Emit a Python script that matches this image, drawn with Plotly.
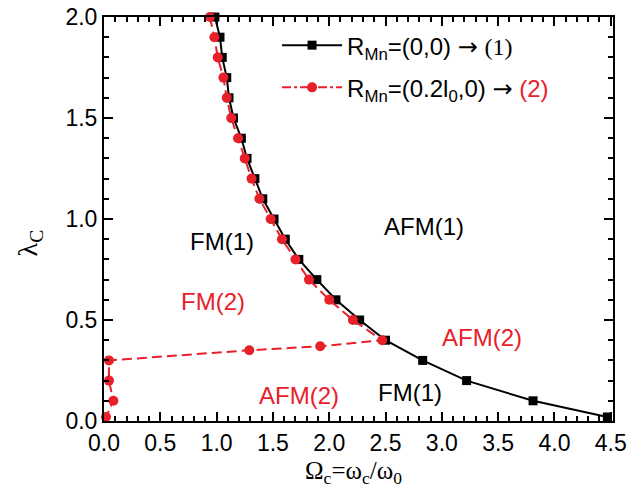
import plotly.graph_objects as go

# Series 1: R_Mn=(0,0)
omega1 = [0.985, 1.03, 1.05, 1.09, 1.11, 1.15, 1.22, 1.27, 1.34, 1.41, 1.51, 1.61, 1.73, 1.89, 2.06, 2.27, 2.50, 2.83, 3.22, 3.81, 4.47]
lam1 = [2.0, 1.9, 1.8, 1.7, 1.6, 1.5, 1.4, 1.3, 1.2, 1.1, 1.0, 0.9, 0.8, 0.7, 0.6, 0.5, 0.4, 0.3, 0.2, 0.1, 0.02]

# Series 2: R_Mn=(0.2 l0, 0)
omega2 = [0.94, 0.98, 1.01, 1.06, 1.09, 1.13, 1.19, 1.25, 1.31, 1.38, 1.48, 1.58, 1.70, 1.82, 2.0, 2.21, 2.47, 1.92, 1.29, 0.044, 0.044, 0.083, 0.018]
lam2 = [2.0, 1.9, 1.8, 1.7, 1.6, 1.5, 1.4, 1.3, 1.2, 1.1, 1.0, 0.9, 0.8, 0.7, 0.6, 0.5, 0.4, 0.37, 0.35, 0.30, 0.2, 0.1, 0.02]

# Region labels
label_text = ["FM(1)", "AFM(1)", "FM(2)", "AFM(2)", "AFM(2)", "FM(1)"]
label_x = [1.05, 2.84, 0.97, 3.36, 1.73, 2.72]
label_y = [0.89, 0.965, 0.59, 0.415, 0.127, 0.14]
label_color = ["black", "black", "red", "red", "red", "black"]

RED = "#e8202a"
FONT = "Liberation Sans, Arial, sans-serif"
SERIF = "Liberation Serif, Times New Roman, serif"
ARROW = "<span style='font-family:DejaVu Sans'>→</span>"

fig = go.Figure()

fig.add_trace(go.Scatter(
    x=omega1, y=lam1, mode="lines+markers",
    line=dict(color="black", width=2),
    marker=dict(symbol="square", size=9, color="black"),
    name="R<sub>Mn</sub>=(0,0) " + ARROW + " <span style='font-family:" + SERIF + "'>(1)</span>",
    legendgroup="g1",
    cliponaxis=False,
))
fig.add_trace(go.Scatter(
    x=omega2, y=lam2, mode="lines+markers",
    line=dict(color=RED, width=2, dash="10px,5px"),
    marker=dict(symbol="circle", size=10, color=RED),
    showlegend=False, legendgroup="g2",
    cliponaxis=False,
))
fig.add_trace(go.Scatter(
    x=[None], y=[None], mode="lines+markers",
    line=dict(color=RED, width=2, dash="dashdot"),
    marker=dict(symbol="circle", size=10, color=RED),
    legendgroup="g2",
    name="R<sub>Mn</sub>=(0.2l<sub>0</sub>,0) " + ARROW + " <span style='color:" + RED + "'>(2)</span>",
))

for t, x, y, c in zip(label_text, label_x, label_y, label_color):
    fig.add_annotation(x=x, y=y, text=t, showarrow=False,
                       font=dict(family=FONT, size=24, color=RED if c == "red" else "black"))

fig.add_annotation(xref="paper", yref="paper", x=0.49, y=-0.128, xanchor="center", yanchor="middle",
                   text="Ω<sub>c</sub>=ω<sub>c</sub>/ω<sub>0</sub>", showarrow=False,
                   font=dict(family=SERIF, size=25, color="black"))
fig.add_annotation(xref="paper", yref="paper", x=-0.147, y=0.44, xanchor="center", yanchor="middle",
                   textangle=-90, text="λ<sub>C</sub>", showarrow=False,
                   font=dict(family=SERIF, size=28, color="black"))

axis_common = dict(
    showline=True, linecolor="black", linewidth=2, mirror="allticks",
    ticks="inside", ticklen=9, tickwidth=1.5, tickcolor="black",
    showgrid=False, zeroline=False, automargin=False, ticklabeloverflow="allow",
    tickfont=dict(family=FONT, size=23, color="black"),
    minor=dict(ticks="inside", ticklen=5, tickwidth=1.5, tickcolor="black", dtick=0.1, showgrid=False),
)

fig.update_xaxes(range=[0, 4.52], tick0=0, dtick=0.5, tickformat=".1f", **axis_common)
fig.update_yaxes(range=[0, 2.0], tick0=0, dtick=0.5, tickformat=".1f", **axis_common)

fig.update_layout(
    width=640, height=489,
    margin=dict(l=104, r=27, t=17, b=68),
    plot_bgcolor="white", paper_bgcolor="white",
    font=dict(family=FONT, size=23, color="black"),
    legend=dict(x=0.34, y=0.985, xanchor="left", yanchor="top",
                bgcolor="rgba(0,0,0,0)", itemwidth=60,
                traceorder="grouped", tracegroupgap=8,
                font=dict(family=FONT, size=24, color="black")),
)

fig.write_html("out.html", config={"displayModeBar": False},
               post_script="document.body.style.margin='0';document.body.style.overflow='hidden';")
